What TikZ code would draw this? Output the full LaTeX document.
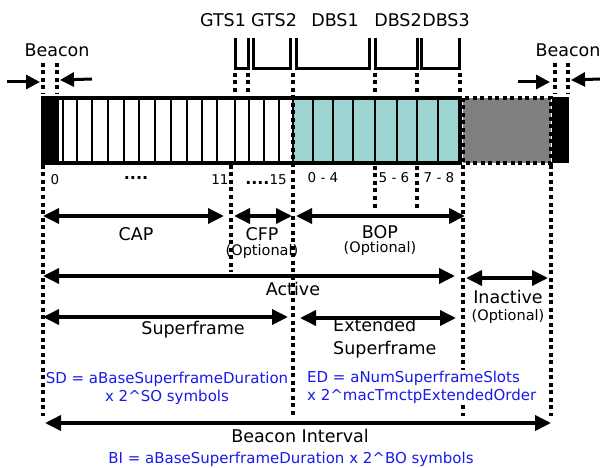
\documentclass[tikz,border=0pt]{standalone}
\usepackage{fontspec}
\setmainfont{DejaVu Sans}
\usetikzlibrary{arrows.meta}
\definecolor{slotteal}{RGB}{157,211,208}
\definecolor{idlegray}{RGB}{128,128,128}
\definecolor{formulablue}{RGB}{25,25,235}
\tikzset{
  slotline/.style={line width=2.6pt},
  barline/.style={line width=3.2pt},
  dotline/.style={line width=3.2pt, dash pattern=on 4pt off 3.5pt},
  bracket/.style={line width=3pt},
  dimarrow/.style={line width=3.6pt, {Triangle[length=16pt,width=15pt]}-{Triangle[length=16pt,width=15pt]}},
  pointer/.style={line width=3pt, -{Triangle[length=14pt,width=14pt]}},
  biglabel/.style={font=\fontsize{17.5}{20}\selectfont, inner sep=0pt},
  smalllabel/.style={font=\fontsize{14.5}{17}\selectfont, inner sep=0pt},
  numlabel/.style={font=\fontsize{13.5}{16}\selectfont, inner sep=0pt},
  formula/.style={font=\fontsize{15}{18}\selectfont, text=formulablue, inner sep=1pt},
}
\begin{document}
\begin{tikzpicture}[x=1pt, y=-1pt]
\useasboundingbox (0,0) rectangle (600,468);

% ---- superframe bar ----
\fill[black] (43,98) rectangle (59,163);
\fill[slotteal] (293,98) rectangle (460,163);
\foreach \sx in {63,77,92,108,124,139,155,171,187,202,217,235,249,264,279,293,313,333,353,375,397,417,438}
  \draw[slotline] (\sx,98) -- (\sx,163);
\draw[barline] (43,98) rectangle (460,163);
\fill[idlegray] (463,98) rectangle (551,163);
\draw[dotline] (463,98) rectangle (551,163);
\fill[black] (552,97) rectangle (569,163);

% ---- beacon markers ----
\node[biglabel] (bconL) at (57,50) {Beacon};
\node[biglabel] (bconR) at (568,50) {Beacon};
\coordinate (bLa) at (7,82);   \coordinate (bLb) at (40,82);
\coordinate (bLc) at (92,79);  \coordinate (bLd) at (60,80);
\coordinate (bRa) at (518,82); \coordinate (bRb) at (550,82);
\coordinate (bRc) at (600,79); \coordinate (bRd) at (571,80);
\draw[pointer] (bLa) -- (bLb);
\draw[pointer] (bLc) -- (bLd);
\draw[pointer] (bRa) -- (bRb);
\draw[pointer] (bRc) -- (bRd);
\foreach \sx in {43,57,555,568}
  \draw[dotline] (\sx,63) -- (\sx,94);

% ---- GTS / DBS brackets ----
\node[biglabel] (gts1) at (223,20) {GTS1};
\node[biglabel] (gts2) at (274,20) {GTS2};
\node[biglabel] (dbs1) at (335,20) {DBS1};
\node[biglabel] (dbs2) at (398,20) {DBS2};
\node[biglabel] (dbs3) at (446,20) {DBS3};
\foreach \a/\b in {235/248, 253/290, 296/369, 375/417, 421/459}
  \draw[bracket] (\a,38) -- (\a,69) -- (\b,69) -- (\b,38);
\foreach \sx in {235,248,375,417,460}
  \draw[dotline] (\sx,73) -- (\sx,95);

% ---- slot numbers ----
\node[numlabel] (n0) at (55,180) {0};
\node[numlabel, font=\fontsize{16}{16}\bfseries] (ndots) at (136,178) {....};
\node[numlabel] (n11) at (220,180) {11};
\node[numlabel] (n15) at (266,180) {{\fontsize{16}{16}\bfseries ....}15};
\node[numlabel] (n04) at (323,178) {0 - 4};
\node[numlabel] (n56) at (394,178) {5 - 6};
\node[numlabel] (n78) at (439,178) {7 - 8};

% ---- period labels ----
\node[biglabel] (cap) at (136,234) {CAP};
\node[biglabel] (cfp) at (262,234) {CFP};
\node[smalllabel] (cfpopt) at (262,251) {(Optional)};
\node[biglabel] (bop) at (380,232) {BOP};
\node[smalllabel] (bopopt) at (380,248) {(Optional)};
\node[biglabel] (active) at (293,289) {Active};
\node[biglabel] (inactive) at (508,297) {Inactive};
\node[smalllabel] (inactopt) at (508,316) {(Optional)};
\node[biglabel] (sframe) at (193,330) {Superframe};
\node[biglabel, align=left, anchor=north west, font=\fontsize{17.5}{23.5}\selectfont] (esframe) at (333,318) {Extended\\Superframe};
\node[biglabel] (bint) at (300,436) {Beacon Interval};

% ---- dotted guides below the bar ----
\draw[dotline] (43,165) -- (43,416);
\draw[dotline] (231,165) -- (231,272);
\draw[dotline] (293,73) -- (293,416);
\draw[dotline] (375,166) -- (375,210);
\draw[dotline] (417,166) -- (417,210);
\draw[dotline] (463,165) -- (463,416);
\draw[dotline] (551,165) -- (551,416);

% ---- formulas ----
\node[formula, align=center] (sd) at (167,388) {SD = aBaseSuperframeDuration\\x 2\textasciicircum SO symbols};
\node[formula, align=left, anchor=west, fill=white] (ed) at (306,387) {ED = aNumSuperframeSlots\\x 2\textasciicircum macTmctpExtendedOrder};
\node[formula] (bi) at (291,459) {BI = aBaseSuperframeDuration x 2\textasciicircum BO symbols};

% ---- dimension arrows ----
\coordinate (capL) at (43,216);  \coordinate (capR) at (224,216);
\coordinate (cfpL) at (234,216); \coordinate (cfpR) at (292,216);
\coordinate (bopL) at (296,216); \coordinate (bopR) at (465,216);
\coordinate (actL) at (43,276);  \coordinate (actR) at (455,276);
\coordinate (inaL) at (466,278); \coordinate (inaR) at (548,278);
\coordinate (sfL) at (43,317);   \coordinate (sfR) at (288,317);
\coordinate (esL) at (300,318);  \coordinate (esR) at (456,318);
\coordinate (biL) at (45,423);   \coordinate (biR) at (551,423);
\draw[dimarrow] (capL) -- (capR);
\draw[dimarrow] (cfpL) -- (cfpR);
\draw[dimarrow] (bopL) -- (bopR);
\draw[dimarrow] (actL) -- (actR);
\draw[dimarrow] (inaL) -- (inaR);
\draw[dimarrow] (sfL) -- (sfR);
\draw[dimarrow] (esL) -- (esR);
\draw[dimarrow] (biL) -- (biR);
\end{tikzpicture}
\end{document}
